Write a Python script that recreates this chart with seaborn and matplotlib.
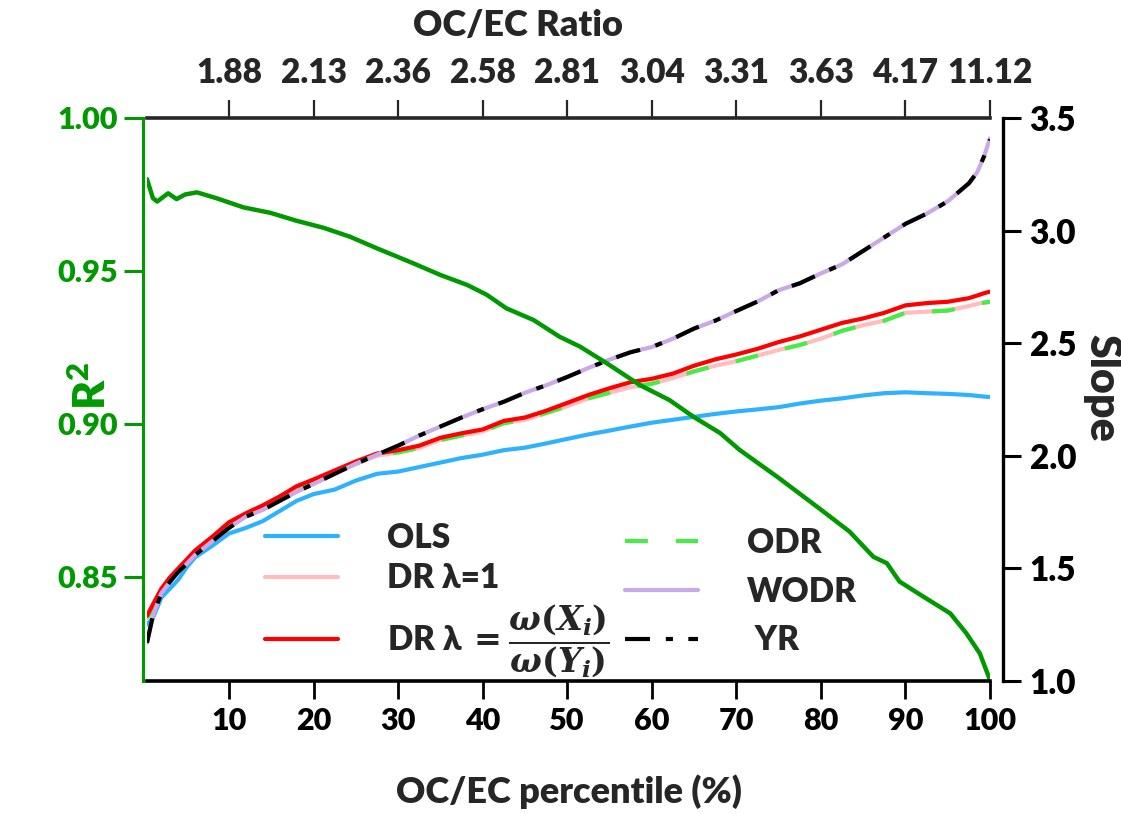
import matplotlib
matplotlib.use("Agg")
import matplotlib.pyplot as plt
import seaborn as sns

# ---------------- data ----------------
percentile = [0.3, 1, 2, 3, 4, 5, 6, 8, 10, 12, 14, 16, 18, 20, 22.5, 25, 27.5, 30,
              32.5, 35, 37.5, 40, 42.5, 45, 47.5, 50, 52.5, 55, 57.5, 60, 62.5, 65,
              67.5, 70, 72.5, 75, 77.5, 80, 82.5, 85, 87.5, 90, 92.5, 95, 97.5, 98.5,
              99.3, 100]

yr = [1.17, 1.29, 1.39, 1.44, 1.485, 1.52, 1.56, 1.62, 1.68, 1.73, 1.76, 1.80, 1.84,
      1.875, 1.92, 1.965, 2.005, 2.045, 2.09, 2.13, 2.17, 2.207, 2.24, 2.28, 2.313,
      2.35, 2.39, 2.427, 2.46, 2.483, 2.52, 2.565, 2.60, 2.643, 2.685, 2.735, 2.766,
      2.81, 2.85, 2.91, 2.97, 3.03, 3.075, 3.13, 3.21, 3.26, 3.33, 3.405]
wodr = [1.17, 1.29, 1.39, 1.44, 1.485, 1.52, 1.56, 1.62, 1.68, 1.73, 1.76, 1.80, 1.84,
        1.875, 1.92, 1.965, 2.005, 2.045, 2.09, 2.13, 2.17, 2.207, 2.24, 2.28, 2.313,
        2.35, 2.39, 2.427, 2.46, 2.483, 2.52, 2.565, 2.60, 2.643, 2.685, 2.735, 2.766,
        2.81, 2.85, 2.91, 2.97, 3.03, 3.075, 3.13, 3.21, 3.26, 3.33, 3.41]
dr_w = [1.29, 1.34, 1.41, 1.46, 1.50, 1.54, 1.58, 1.64, 1.705, 1.745, 1.78, 1.82, 1.865,
        1.895, 1.935, 1.975, 2.01, 2.025, 2.045, 2.08, 2.10, 2.117, 2.155, 2.17, 2.20,
        2.235, 2.27, 2.30, 2.327, 2.342, 2.365, 2.40, 2.428, 2.45, 2.475, 2.505, 2.53,
        2.56, 2.59, 2.61, 2.635, 2.668, 2.678, 2.684, 2.70, 2.712, 2.722, 2.729]
dr_one = [1.28, 1.32, 1.40, 1.45, 1.49, 1.53, 1.57, 1.63, 1.69, 1.735, 1.77, 1.81, 1.85,
          1.885, 1.925, 1.965, 2.0, 2.015, 2.035, 2.07, 2.09, 2.108, 2.145, 2.16, 2.19,
          2.22, 2.255, 2.28, 2.305, 2.32, 2.345, 2.375, 2.40, 2.42, 2.445, 2.47, 2.492,
          2.52, 2.555, 2.58, 2.60, 2.635, 2.64, 2.645, 2.665, 2.675, 2.68, 2.684]
odr = [1.28, 1.32, 1.40, 1.45, 1.49, 1.53, 1.57, 1.63, 1.69, 1.735, 1.77, 1.81, 1.85,
       1.885, 1.925, 1.965, 2.0, 2.015, 2.035, 2.07, 2.09, 2.108, 2.145, 2.16, 2.19,
       2.22, 2.255, 2.28, 2.305, 2.32, 2.345, 2.375, 2.40, 2.42, 2.445, 2.47, 2.492,
       2.52, 2.555, 2.58, 2.60, 2.635, 2.64, 2.645, 2.665, 2.675, 2.68, 2.684]
ols = [1.25, 1.28, 1.37, 1.41, 1.45, 1.505, 1.55, 1.60, 1.655, 1.68, 1.71, 1.755, 1.80,
       1.83, 1.85, 1.89, 1.92, 1.93, 1.95, 1.97, 1.99, 2.005, 2.025, 2.036, 2.055,
       2.075, 2.095, 2.112, 2.13, 2.147, 2.16, 2.173, 2.186, 2.197, 2.206, 2.216,
       2.232, 2.245, 2.255, 2.268, 2.278, 2.282, 2.278, 2.275, 2.27, 2.266, 2.263, 2.261]

r2_percentile = [0.3, 1.0, 1.5, 2.8, 3.8, 4.8, 6.2, 8.5, 11.7, 14.9, 18, 21.2, 24.3,
                 27.5, 31.8, 35, 38.2, 40.5, 42.8, 46, 49.1, 51.5, 54.7, 58.6, 62.1,
                 64.9, 68.1, 70.4, 75, 80, 83.4, 86.2, 87.8, 89.3, 92.1, 95.3, 97.2,
                 98.8, 100]
r2 = [0.980, 0.9738, 0.9727, 0.9754, 0.9735, 0.975, 0.9757, 0.9738, 0.9708, 0.969,
      0.9664, 0.9641, 0.9612, 0.9574, 0.9525, 0.9487, 0.9454, 0.9422, 0.9378, 0.934,
      0.9285, 0.9253, 0.9198, 0.9127, 0.9078, 0.9024, 0.897, 0.8915, 0.8824, 0.872,
      0.8648, 0.8566, 0.8545, 0.8485, 0.8436, 0.8381, 0.8316, 0.825, 0.8163]

bottom_ticks = [10, 20, 30, 40, 50, 60, 70, 80, 90, 100]
ratio_labels = ["1.88", "2.13", "2.36", "2.58", "2.81", "3.04", "3.31", "3.63",
                "4.17", "11.12"]
r2_ticks = [0.85, 0.90, 0.95, 1.00]
slope_ticks = [1.0, 1.5, 2.0, 2.5, 3.0, 3.5]

# ---------------- style ----------------
sns.set_style("ticks")
W = "heavy"
plt.rcParams["font.family"] = ["Lato", "DejaVu Sans"]
plt.rcParams["font.weight"] = W
plt.rcParams["axes.labelweight"] = W
plt.rcParams["mathtext.fontset"] = "custom"
plt.rcParams["mathtext.rm"] = "DejaVu Serif:bold"
plt.rcParams["mathtext.it"] = "DejaVu Serif:italic:bold"
plt.rcParams["mathtext.bf"] = "DejaVu Serif:bold"
plt.rcParams["mathtext.sf"] = "Lato:heavy"

GREEN = "#009A00"
fig = plt.figure(figsize=(11.21, 8.14), dpi=100)
fig.patch.set_facecolor("white")
ax = fig.add_axes([147 / 1121, 1 - 681 / 814, (990 - 147) / 1121, (681 - 118) / 814])
ax2 = ax.twinx()

LW = 3.0
kw = dict(ax=ax2, legend=False, errorbar=None, sort=False)
sns.lineplot(x=percentile, y=ols, color="#2EB2FF", linewidth=LW, label="OLS", **kw)
sns.lineplot(x=percentile, y=dr_one, color="#FFBDBD", linewidth=LW, label="DR λ=1", **kw)
sns.lineplot(x=percentile, y=odr, color="#44EE44", linewidth=LW, label="ODR",
             linestyle=(0, (5.5, 6.7)), **kw)
DRW = r"DR λ$\,=\dfrac{\omega(X_i)}{\omega(Y_i)}$"
sns.lineplot(x=percentile, y=dr_w, color="#FF0000", linewidth=LW, label=DRW, **kw)
sns.lineplot(x=percentile, y=wodr, color="#C9A9E6", linewidth=LW, label="WODR", **kw)
sns.lineplot(x=percentile, y=yr, color="black", linewidth=LW, label=" YR",
             linestyle=(0, (6, 3.8, 1.7, 3.7)), **kw)

sns.lineplot(x=r2_percentile, y=r2, ax=ax, color=GREEN, linewidth=3.2, legend=False,
             errorbar=None, sort=False)

# layering: R2 line above slope lines
ax.set_zorder(ax2.get_zorder() + 1)
ax.patch.set_visible(False)

# ---------------- axes ----------------
ax.set_xlim(0.3, 100)
ax.set_ylim(0.816, 1.0)
ax2.set_ylim(1.0, 3.5)

ax.set_xticks(bottom_ticks)
ax.set_xticklabels([str(t) for t in bottom_ticks])
ax.set_yticks(r2_ticks)
ax.set_yticklabels([f"{t:.2f}" for t in r2_ticks])
ax2.set_yticks(slope_ticks)
ax2.set_yticklabels([f"{t:.1f}" for t in slope_ticks])

for s in ["top", "right"]:
    ax.spines[s].set_visible(False)
for s in ["top", "left", "bottom"]:
    ax2.spines[s].set_visible(False)

ax.spines["left"].set_color(GREEN)
ax.spines["left"].set_linewidth(2.2)
ax.spines["left"].set_position(("outward", 3))
ax.spines["bottom"].set_linewidth(2.6)
ax.spines["bottom"].set_color("black")
ax2.spines["right"].set_linewidth(2.4)
ax2.spines["right"].set_color("black")
ax2.spines["right"].set_position(("outward", 9.5))

ax.tick_params(axis="x", direction="out", length=13, width=2, labelsize=22, pad=6,
               colors="black")
ax.tick_params(axis="y", direction="out", length=14, width=2.2, labelsize=22, pad=4,
               colors=GREEN)
ax2.tick_params(axis="y", direction="out", length=13, width=2.2, labelsize=24, pad=6,
                colors="black")
for lab in ax.get_xticklabels() + ax.get_yticklabels() + ax2.get_yticklabels():
    lab.set_fontweight(W)

sec = ax.secondary_xaxis("top")
sec.set_xticks(bottom_ticks)
sec.set_xticklabels(ratio_labels)
sec.spines["top"].set_linewidth(2.6)
sec.tick_params(axis="x", direction="out", length=13, width=1.6, labelsize=24, pad=8)
for lab in sec.get_xticklabels():
    lab.set_fontweight(W)
sec.set_xlabel("OC/EC Ratio", fontsize=26, fontweight=W)
sec.xaxis.set_label_coords(518 / 1121, 1 - 36 / 814, transform=fig.transFigure)

ax.set_xlabel("OC/EC percentile (%)", fontsize=26, fontweight=W, labelpad=28)
ax.set_ylabel(r"R$^\mathsf{2}$", fontsize=32, color=GREEN, fontweight=W)
ax.yaxis.set_label_coords(-0.040, 0.525)
ax2.set_ylabel("Slope", fontsize=31, fontweight=W, rotation=270)
ax2.yaxis.set_label_coords(1.157, 0.52)

# ---------------- legends ----------------
lines = {l.get_label(): l for l in ax2.get_lines()}
names1 = ["OLS", "DR λ=1", DRW]
names2 = ["ODR", "WODR", " YR"]
common = dict(frameon=False, handlelength=2.2, handletextpad=1.45,
              borderpad=0, borderaxespad=0,
              bbox_transform=fig.transFigure, loc="upper left",
              prop={"size": 24, "weight": W})
leg1 = ax2.legend([lines[n] for n in names1], names1, labelspacing=0.25,
                  bbox_to_anchor=(265 / 1121, 1 - 522 / 814), **common)
ax2.add_artist(leg1)
leg2 = ax2.legend([lines[n] for n in names2], names2, labelspacing=0.5,
                  bbox_to_anchor=(625 / 1121, 1 - 527 / 814), **common)

fig.savefig("out.png", dpi=100, facecolor="white")
